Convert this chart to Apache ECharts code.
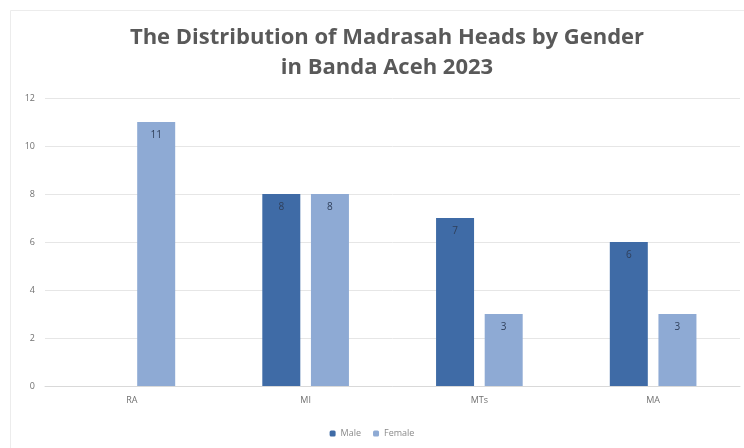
<!DOCTYPE html>
<html><head><meta charset="utf-8">
<script src="https://cdn.jsdelivr.net/npm/echarts@6/dist/echarts.min.js"></script>
<style>html,body{margin:0;padding:0;background:#fff}#c{width:744px;height:448px}</style>
</head><body><div id="c"></div>
<script>
const categories = ['RA', 'MI', 'MTs', 'MA'];
const maleValues = [null, 8, 7, 6];
const femaleValues = [11, 8, 3, 3];
const yTicks = [0, 2, 4, 6, 8, 10, 12];
const titleText = 'The Distribution of Madrasah Heads by Gender\nin Banda Aceh 2023';

const chart = echarts.init(document.getElementById('c'));
const font = 'Open Sans';
const labelStyle = {show: true, position: 'insideTop', distance: 8, color: '#2f3f5a', fontSize: 10, fontFamily: font};
chart.setOption({
  animation: false,
  backgroundColor: '#fff',
  graphic: [{type: 'rect', shape: {x: 10.5, y: 10.5, width: 740, height: 440}, style: {fill: 'none', stroke: '#ececec', lineWidth: 1}, z: -1}],
  title: {
    text: titleText, left: 382, textAlign: 'center', top: 18,
    textStyle: {fontFamily: font, fontSize: 22, fontWeight: 'bold', color: '#595959', lineHeight: 30}
  },
  legend: {
    bottom: 5, left: 'center', itemWidth: 6, itemHeight: 6, itemGap: 12,
    textStyle: {fontFamily: font, fontSize: 9, color: '#8a8a8a'},
    data: ['Male', 'Female']
  },
  grid: {left: 45, right: 4, top: 98, bottom: 62},
  xAxis: {
    type: 'category', data: categories,
    axisLine: {lineStyle: {color: '#d9d9d9'}}, axisTick: {show: false},
    axisLabel: {color: '#707070', fontSize: 9, fontFamily: font, margin: 10}
  },
  yAxis: {
    type: 'value', min: yTicks[0], max: yTicks[yTicks.length - 1], interval: 2,
    axisLine: {show: false}, axisTick: {show: false},
    splitLine: {lineStyle: {color: '#e6e6e6'}},
    axisLabel: {color: '#707070', fontSize: 9, fontFamily: font, margin: 10}
  },
  series: [
    {name: 'Male', type: 'bar', data: maleValues, barWidth: 38, barGap: '28%',
     itemStyle: {color: '#3f6ba6'}, label: labelStyle},
    {name: 'Female', type: 'bar', data: femaleValues, barWidth: 38,
     itemStyle: {color: '#8eaad4'}, label: labelStyle}
  ]
});
</script></body></html>
